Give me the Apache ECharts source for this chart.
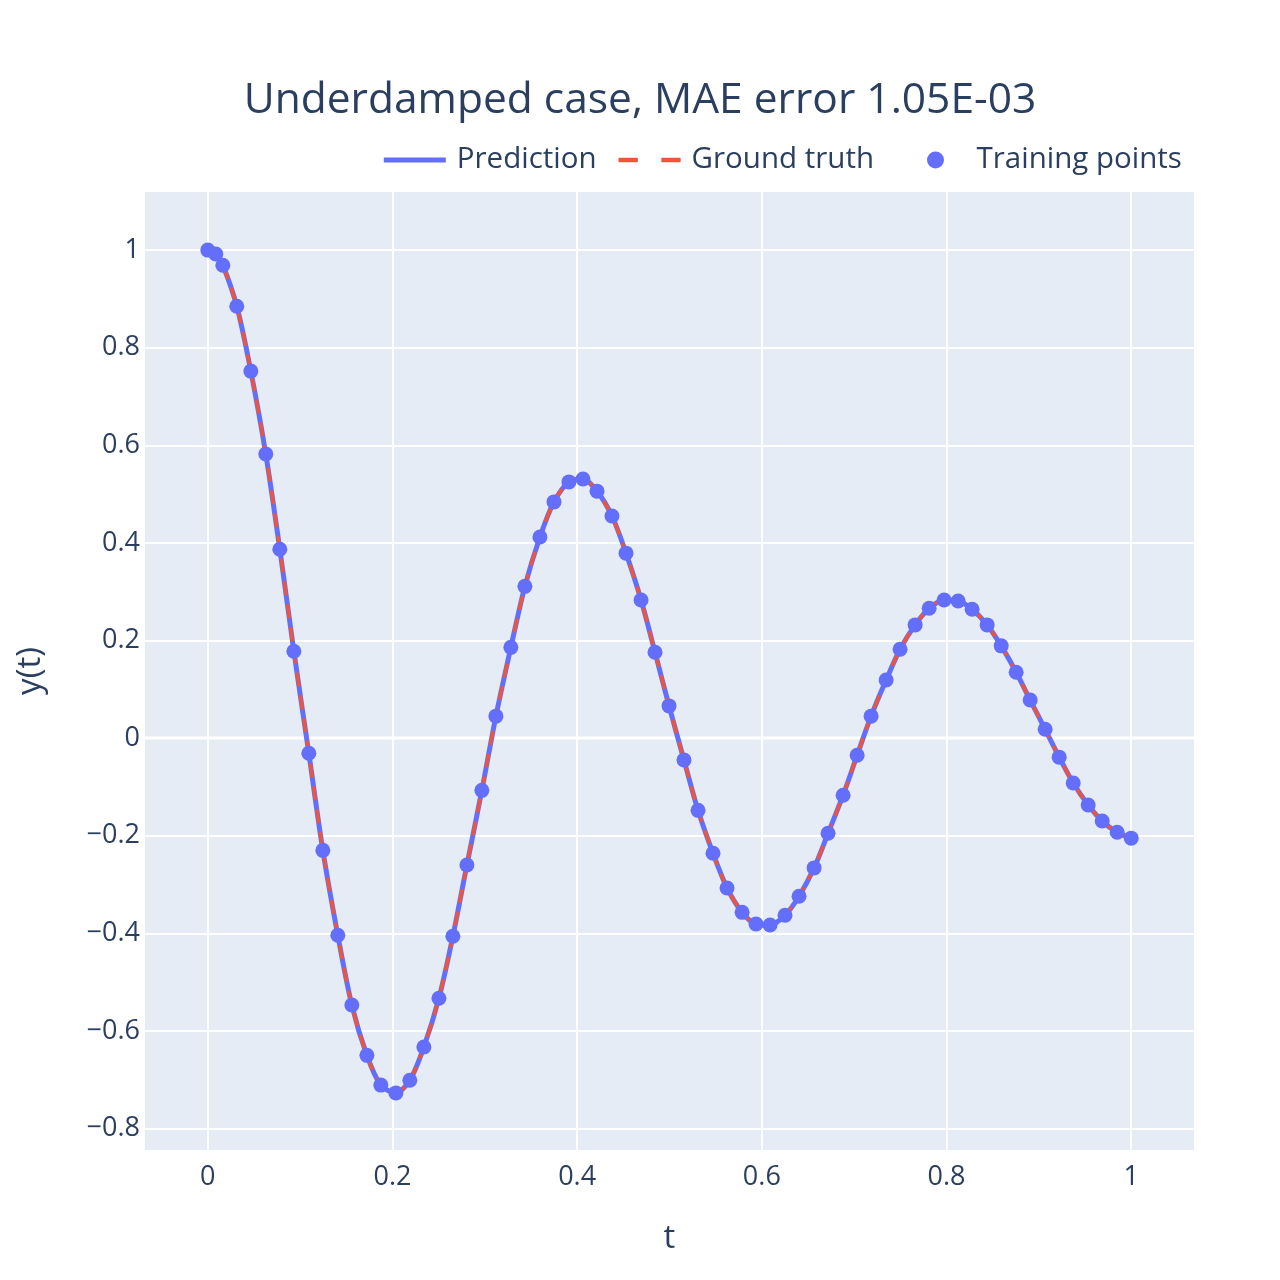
<!DOCTYPE html>
<html><head><meta charset="utf-8">
<script src="https://cdn.jsdelivr.net/npm/echarts@6/dist/echarts.min.js"></script>
<style>html,body{margin:0;padding:0;background:#fff}#c{width:1280px;height:1280px}</style>
</head><body><div id="c"></div>
<script>
const tValues = [0,.0087,.0163,.0314,.0466,.0628,.0780,.0932,.1094,.1246,.1408,.1560,.1723,.1874,.2037,.2188,.2340,.2503,.2654,.2806,.2968,.3120,.3282,.3434,.3597,.3749,.3911,.4063,.4215,.4377,.4529,.4692,.4843,.4995,.5157,.5309,.5471,.5623,.5786,.5937,.6089,.6251,.6403,.6566,.6717,.6880,.7032,.7183,.7346,.7497,.7660,.7812,.7974,.8126,.8277,.8440,.8592,.8754,.8906,.9068,.9220,.9372,.9534,.9686,.9848,1.0];
const yValues = [1.0,0.992,0.969,0.885,0.752,0.582,0.387,0.178,-0.031,-0.230,-0.404,-0.547,-0.650,-0.711,-0.727,-0.701,-0.633,-0.533,-0.406,-0.260,-0.107,0.045,0.186,0.311,0.412,0.484,0.525,0.531,0.506,0.455,0.379,0.283,0.176,0.066,-0.045,-0.148,-0.236,-0.307,-0.357,-0.381,-0.383,-0.363,-0.324,-0.266,-0.195,-0.117,-0.035,0.045,0.119,0.182,0.232,0.266,0.283,0.281,0.264,0.232,0.189,0.135,0.078,0.018,-0.039,-0.092,-0.137,-0.170,-0.193,-0.205];
const xTicks = [0,0.2,0.4,0.6,0.8,1];
const yTicks = [-0.8,-0.6,-0.4,-0.2,0,0.2,0.4,0.6,0.8,1];
const pts = tValues.map((t,i)=>[t,yValues[i]]);
const fmt = v => (Math.round(v*10)/10).toString().replace('-','\u2212');
const F = '"Open Sans", sans-serif', C = '#2a3f5f';
const LT = {fontFamily:F,fontSize:29.5,color:C,padding:[0,0,0,6]};
const chart = echarts.init(document.getElementById('c'));
chart.setOption({
  animation:false,
  textStyle:{fontFamily:F},
  title:{text:'Underdamped case, MAE error 1.05E-03',left:'center',top:74,textStyle:{fontFamily:F,fontSize:42.5,fontWeight:'normal',color:C}},
  legend:[
    {right:401,top:140,itemWidth:62,itemHeight:5,itemGap:22,textStyle:LT,
     data:[{name:'Prediction',icon:'path://M0,0H62V5H0Z',itemStyle:{color:'#636efa'}},
           {name:'Ground truth',icon:'path://M0,0H18V4H0Z M40,0H58V4H40Z',itemStyle:{color:'#ef553b'}}]},
    {left:922,top:140,itemWidth:20,itemHeight:17,textStyle:{fontFamily:F,fontSize:29.5,color:C,padding:[0,0,0,26]},
     data:[{name:'Training points',icon:'circle'}]}
  ],
  grid:{left:145,right:86,top:192,bottom:130,backgroundColor:'#e5ecf6',show:true,borderWidth:0},
  xAxis:{type:'value',min:-0.068,max:1.068,name:'t',nameLocation:'middle',nameGap:72,
    nameTextStyle:{fontSize:33,color:C,fontFamily:F},
    axisLine:{show:false},axisTick:{show:false,customValues:xTicks},
    axisLabel:{customValues:xTicks,formatter:fmt,fontSize:27,color:C,margin:14},
    splitLine:{show:true,lineStyle:{color:'#fff',width:2}}},
  yAxis:{type:'value',min:-0.844,max:1.119,name:'y(t)',nameLocation:'middle',nameGap:98,
    nameTextStyle:{fontSize:33,color:C,fontFamily:F},
    axisLine:{show:false},axisTick:{show:false,customValues:yTicks},
    axisLabel:{customValues:yTicks,formatter:fmt,fontSize:27,color:C,margin:5},
    splitLine:{show:true,lineStyle:{color:'#fff',width:2}}},
  series:[
    {name:'Prediction',type:'line',data:pts,smooth:0.3,symbol:'none',lineStyle:{color:'#636efa',width:5},itemStyle:{color:'#636efa'},z:2},
    {name:'Ground truth',type:'line',data:pts,smooth:0.3,symbol:'none',lineStyle:{color:'#ef553b',width:3.5,type:[14,9]},itemStyle:{color:'#ef553b'},z:3},
    {name:'Training points',type:'scatter',data:pts,symbolSize:15,itemStyle:{color:'#636efa',opacity:1},z:4},
    {type:'line',data:[[-0.068,0],[1.068,0]],symbol:'none',silent:true,lineStyle:{color:'#fff',width:3},z:1}
  ]
});
</script></body></html>
